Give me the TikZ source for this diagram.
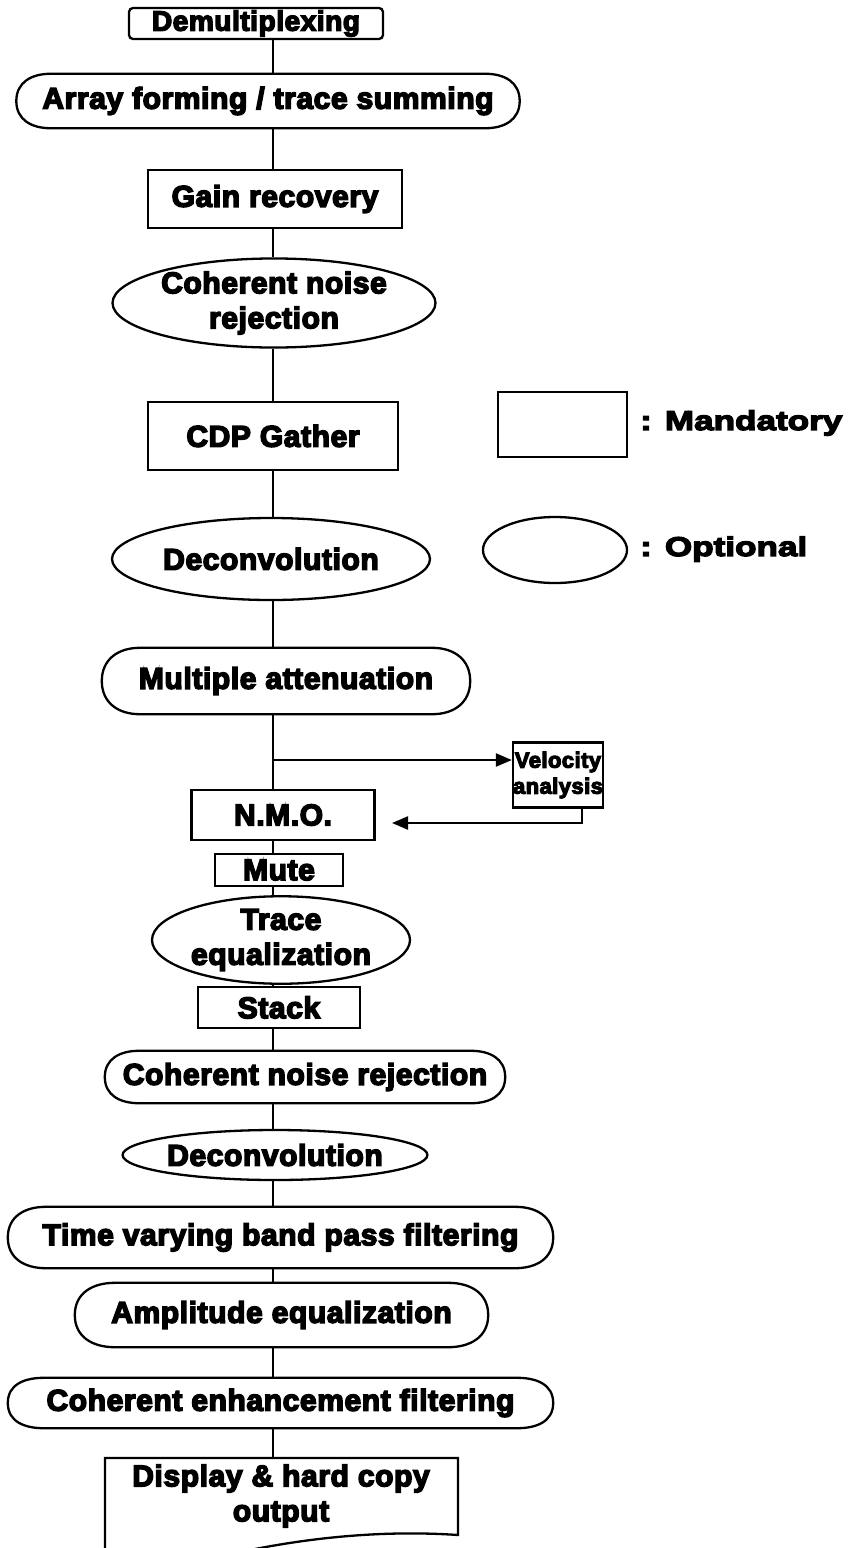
\documentclass[tikz,border=0pt]{standalone}
\usepackage{fontspec}
\newfontfamily\hv{Liberation Sans Bold}[FakeBold=5,LetterSpace=2]
\newfontfamily\hvw{Liberation Sans Bold}[FakeBold=5,FakeStretch=1.3]
\usetikzlibrary{shapes.geometric,arrows.meta}
\tikzset{
  ln/.style={line width=2.3pt,black},
  txt/.style={font=\hv\fontsize{30}{35}\selectfont, align=center, inner sep=0pt},
  mbox/.style={txt, draw, ln},
  ell/.style={txt, draw, ln, ellipse},
  stad/.style={txt},
  lgtxt/.style={font=\hvw\fontsize{27}{30}\selectfont, anchor=west, inner sep=0pt},
  arr/.style={ln, -{Triangle[length=16pt,width=13pt]}}
}
\newcommand\stadline[2]{\draw[ln] ([xshift=#2]#1.north west) -- ([xshift=-#2]#1.north east)
  to[out=0,in=90,looseness=1.1] (#1.east) to[out=-90,in=0,looseness=1.1] ([xshift=-#2]#1.south east)
  -- ([xshift=#2]#1.south west) to[out=180,in=-90,looseness=1.1] (#1.west)
  to[out=90,in=180,looseness=1.1] ([xshift=#2]#1.north west) -- cycle;}
\begin{document}
\begin{tikzpicture}[x=1pt,y=-1pt]
\useasboundingbox (0,0) rectangle (858,1548);
\clip (0,0) rectangle (858,1548);
\coordinate (spine) at (273,0);

\node[mbox, font=\hv\fontsize{28}{32}\selectfont, rounded corners=4pt, minimum width=254pt, minimum height=31pt] (demux) at (256,23.5) {Demultiplexing};
\node[stad, minimum width=503pt, minimum height=54pt] (array) at (268,101) {Array forming / trace summing};
\node[mbox, minimum width=254pt, minimum height=58pt] (gain) at (275,199) {Gain recovery};
\node[ell, minimum width=323pt, minimum height=84pt] (coh1) at (274,303) {Coherent noise\\rejection};
\node[mbox, minimum width=250pt, minimum height=68pt] (cdp) at (273,436) {CDP Gather};
\node[ell, minimum width=318pt, minimum height=82pt] (dec1) at (271,559) {Deconvolution};
\node[stad, minimum width=368pt, minimum height=66pt] (mult) at (286,681) {Multiple attenuation};
\node[mbox, font=\hv\fontsize{22}{26}\selectfont, minimum width=84pt, minimum height=65pt] (vel) at (558,775) {Velocity\\analysis};
\node[mbox, minimum width=183pt, minimum height=50pt] (nmo) at (283,815) {N.M.O.};
\node[mbox, minimum width=128pt, minimum height=32pt] (mute) at (279,870) {Mute};
\node[ell, minimum width=258pt, minimum height=84pt] (trace) at (281,940) {Trace\\equalization};
\node[mbox, minimum width=162pt, minimum height=41pt] (stack) at (279,1007.5) {Stack};
\node[stad, minimum width=400pt, minimum height=52pt] (coh2) at (305,1077) {Coherent noise rejection};
\node[ell, minimum width=246pt, minimum height=50pt] (dec2) at (275,1155) {Deconvolution};
\node[stad, minimum width=545pt, minimum height=61pt] (tvbp) at (280.5,1237.5) {Time varying band pass filtering};
\node[stad, minimum width=413pt, minimum height=64pt] (amp) at (281.5,1315) {Amplitude equalization};
\node[stad, minimum width=545pt, minimum height=50pt] (coe) at (280.5,1403) {Coherent enhancement filtering};
\node[txt, minimum width=353pt, minimum height=77pt] (disp) at (281,1496) {Display \& hard copy\\output};

\stadline{array}{34pt}
\stadline{mult}{38pt}
\stadline{coh2}{34pt}
\stadline{tvbp}{38pt}
\stadline{amp}{40pt}
\stadline{coe}{36pt}

% display (document) outline
\draw[ln] (105,1458) -- (458,1458) -- (458,1535)
  .. controls (400,1531) and (330,1534) .. (250,1550) -- (105,1552) -- cycle;

% connectors
\draw[ln] (demux.south -| spine) -- (array.north -| spine);
\draw[ln] (array.south -| spine) -- (gain.north -| spine);
\draw[ln] (gain.south -| spine) -- (coh1.north -| spine);
\draw[ln] (coh1.south -| spine) -- (cdp.north -| spine);
\draw[ln] (cdp.south -| spine) -- (dec1.north -| spine);
\draw[ln] (dec1.south -| spine) -- (mult.north -| spine);
\draw[ln] (mult.south -| spine) -- (nmo.north -| spine);
\draw[ln] (nmo.south -| spine) -- (mute.north -| spine);
\draw[ln] (mute.south -| spine) -- (trace.north -| spine);
\draw[ln] (trace.south -| spine) -- (stack.north -| spine);
\draw[ln] (stack.south -| spine) -- (coh2.north -| spine);
\draw[ln] (coh2.south -| spine) -- (dec2.north -| spine);
\draw[ln] (dec2.south -| spine) -- (tvbp.north -| spine);
\draw[ln] (tvbp.south -| spine) -- (amp.north -| spine);
\draw[ln] (amp.south -| spine) -- (coe.north -| spine);
\draw[ln] (coe.south -| spine) -- (disp.north -| spine);

\coordinate (br) at (273,760);
\coordinate (ret) at (392,823);
\draw[arr] (br) -- (br -| vel.west);
\draw[arr] ([xshift=24pt]vel.south) |- (ret);

% legend
\node[mbox, minimum width=129pt, minimum height=65pt] (lrect) at (562.5,424.5) {};
\node[lgtxt] (lman) at (640,423) {: Mandatory};
\node[ell, minimum width=144pt, minimum height=66pt] (lell) at (555,550) {};
\node[lgtxt] (lopt) at (640,549) {: Optional};
\end{tikzpicture}
\end{document}
